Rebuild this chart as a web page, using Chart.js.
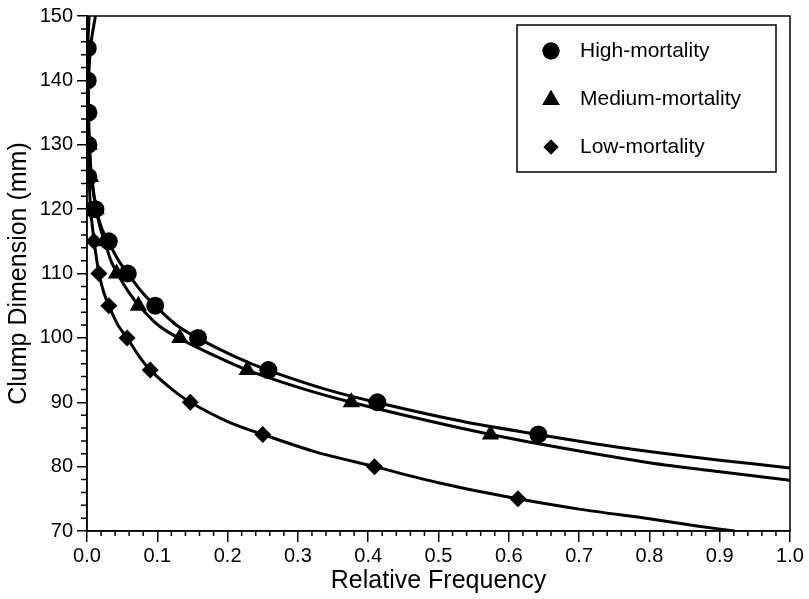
<!DOCTYPE html>
<html>
<head>
<meta charset="utf-8">
<script src="https://cdn.jsdelivr.net/npm/chart.js@4"></script>
<style>
  body { margin: 0; background: #fff; }
  canvas { display: block; }
</style>
</head>
<body>
<canvas id="clump-chart" width="809" height="599"></canvas>
<script>
// Clump dimension (mm) for each observed marker
const highDims = [145, 140, 135, 130, 125, 120, 115, 110, 105, 100, 95, 90, 85];
const highFreq = [0.001, 0.001, 0.002, 0.002, 0.002, 0.012, 0.031, 0.058, 0.097, 0.158, 0.258, 0.413, 0.642];

const mediumDims = [145, 140, 135, 130, 125, 120, 115, 110, 105, 100, 95, 90, 85];
const mediumFreq = [0.000, 0.000, 0.001, 0.003, 0.005, 0.013, 0.024, 0.042, 0.073, 0.132, 0.228, 0.376, 0.574];

const lowDims = [120, 115, 110, 105, 100, 95, 90, 85, 80, 75];
const lowFreq = [0.004, 0.010, 0.017, 0.031, 0.057, 0.090, 0.147, 0.250, 0.409, 0.613];

// fitted curves
const highFitDims = [150, 146, 142, 137, 132, 127, 123, 120, 117, 115, 112, 110, 107, 105, 102, 100, 97, 95, 92, 90, 87, 85, 83.6, 82.35, 81.0, 79.8];
const highFitFreq = [0.012, 0.006, 0.003, 0.002, 0.003, 0.005, 0.009, 0.013, 0.021, 0.030, 0.045, 0.058, 0.079, 0.097, 0.127, 0.157, 0.212, 0.257, 0.340, 0.411, 0.535, 0.641, 0.720, 0.800, 0.900, 1.000];

const mediumFitDims = [150, 145, 140, 135, 130, 125, 120, 117, 115, 112, 110, 107, 105, 102, 100, 97, 95, 92, 90, 87, 85, 82.8, 80.6, 79.2, 77.9];
const mediumFitFreq = [0.003, 0.001, 0.001, 0.001, 0.003, 0.006, 0.013, 0.019, 0.025, 0.034, 0.043, 0.060, 0.074, 0.101, 0.130, 0.186, 0.228, 0.310, 0.376, 0.490, 0.574, 0.680, 0.800, 0.900, 1.000];

const lowFitDims = [150, 140, 130, 125, 120, 117, 115, 112, 110, 107, 105, 102, 100, 97, 95, 92, 90, 87, 85, 82.3, 80, 77.5, 75, 73.4, 71.9, 70.75, 70];
const lowFitFreq = [0.0005, 0.001, 0.002, 0.003, 0.005, 0.008, 0.010, 0.014, 0.017, 0.024, 0.031, 0.044, 0.057, 0.075, 0.090, 0.121, 0.147, 0.200, 0.250, 0.325, 0.409, 0.500, 0.613, 0.700, 0.800, 0.870, 0.921];

const seriesNames = ['High-mortality', 'Medium-mortality', 'Low-mortality'];
const FONT = '"Liberation Sans", Arial, Helvetica, sans-serif';

function toPoints(xs, ys) {
    return xs.map((x, i) => ({ x: x, y: ys[i] }));
}

function markerSet(label, xs, ys, style, radius) {
    return {
        label: label,
        data: toPoints(xs, ys),
        showLine: false,
        pointStyle: style,
        pointRadius: radius,
        pointHoverRadius: radius,
        pointBackgroundColor: '#000',
        pointBorderColor: '#000',
        pointBorderWidth: 0,
        order: 0
    };
}

function fitSet(xs, ys) {
    return {
        label: '',
        data: toPoints(xs, ys),
        showLine: true,
        borderColor: '#000',
        borderWidth: 3,
        pointRadius: 0,
        tension: 0.3,
        fill: false,
        order: 1
    };
}

// minor ticks, frame and legend box
const extrasPlugin = {
    id: 'extras',
    afterDraw(chart) {
        const ctx = chart.ctx;
        const area = chart.chartArea;
        const xs = chart.scales.x;
        const ys = chart.scales.y;
        ctx.save();
        ctx.strokeStyle = '#000';
        ctx.lineWidth = 1.5;

        ctx.beginPath();
        for (let i = 1; i < 50; i++) {
            if (i % 5 === 0) continue;
            const px = xs.getPixelForValue(i * 0.02);
            ctx.moveTo(px, area.bottom);
            ctx.lineTo(px, area.bottom + 5);
        }
        for (let v = 72; v < 150; v += 2) {
            if (v % 10 === 0) continue;
            const py = ys.getPixelForValue(v);
            ctx.moveTo(area.left - 6, py);
            ctx.lineTo(area.left, py);
        }
        ctx.stroke();

        ctx.strokeRect(area.left, area.top, area.right - area.left, area.bottom - area.top);

        // legend
        ctx.lineWidth = 1.5;
        ctx.strokeRect(517, 25, 259, 147);
        const styles = [['circle', 8.5], ['triangle', 10], ['rectRot', 7.5]];
        const rows = [51, 99, 147];
        ctx.font = '21px ' + FONT;
        ctx.fillStyle = '#000';
        ctx.textBaseline = 'middle';
        seriesNames.forEach((name, i) => {
            Chart.helpers.drawPoint(ctx, {
                pointStyle: styles[i][0],
                radius: styles[i][1],
                rotation: 0,
                borderWidth: 0
            }, 551, rows[i] + (i === 1 ? 1 : 0));
            ctx.fillStyle = '#000';
            ctx.fill();
            ctx.fillText(name, 580, rows[i]);
        });
        ctx.restore();
    }
};

const ctx = document.getElementById('clump-chart').getContext('2d');
new Chart(ctx, {
    type: 'scatter',
    data: {
        datasets: [
            markerSet(seriesNames[0], highFreq, highDims, 'circle', 9),
            markerSet(seriesNames[1], mediumFreq, mediumDims, 'triangle', 10),
            markerSet(seriesNames[2], lowFreq, lowDims, 'rectRot', 8.5),
            fitSet(highFitFreq, highFitDims),
            fitSet(mediumFitFreq, mediumFitDims),
            fitSet(lowFitFreq, lowFitDims)
        ]
    },
    options: {
        responsive: false,
        animation: false,
        layout: { padding: { top: 16, right: 19, left: 0, bottom: 0 } },
        plugins: {
            legend: { display: false },
            tooltip: { enabled: false }
        },
        scales: {
            x: {
                type: 'linear',
                min: 0,
                max: 1,
                afterFit: s => { s.height = 68; },
                ticks: {
                    stepSize: 0.1,
                    color: '#000',
                    padding: 2,
                    maxRotation: 0,
                    font: { family: FONT, size: 20 },
                    callback: v => v.toFixed(1)
                },
                grid: { drawOnChartArea: false, color: '#000', tickLength: 11, lineWidth: 1.5 },
                border: { color: '#000', width: 1.5 },
                title: {
                    display: true,
                    text: 'Relative Frequency',
                    color: '#000',
                    font: { family: FONT, size: 25 },
                    padding: { top: 3, bottom: 3 }
                }
            },
            y: {
                min: 70,
                max: 150,
                afterFit: s => { s.width = 87; },
                ticks: {
                    stepSize: 10,
                    color: '#000',
                    padding: 4,
                    font: { family: FONT, size: 20 }
                },
                grid: { drawOnChartArea: false, color: '#000', tickLength: 10, lineWidth: 1.5 },
                border: { color: '#000', width: 1.5 },
                title: {
                    display: true,
                    text: 'Clump Dimension (mm)',
                    color: '#000',
                    font: { family: FONT, size: 25 },
                    padding: { top: 4, bottom: 3 }
                }
            }
        }
    },
    plugins: [extrasPlugin]
});
</script>
</body>
</html>
